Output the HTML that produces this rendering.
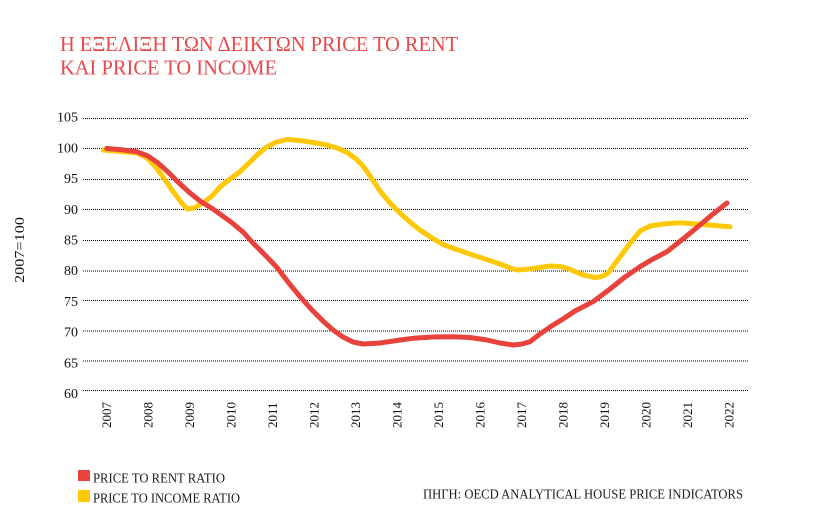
<!DOCTYPE html>
<html>
<head>
<meta charset="utf-8">
<style>
html,body{margin:0;padding:0;background:#fff;}
svg{display:block;}
</style>
</head>
<body>
<svg width="816" height="525" viewBox="0 0 816 525" xmlns="http://www.w3.org/2000/svg">
<rect width="816" height="525" fill="#fff"/>

<!-- Title -->
<g font-family="Liberation Serif, serif" font-size="21.5" fill="#e8484a">
<text x="60" y="51" textLength="398" lengthAdjust="spacingAndGlyphs">Η ΕΞΕΛΙΞΗ ΤΩΝ ΔΕΙΚΤΩΝ PRICE TO RENT</text>
<text x="60" y="74.5" textLength="217" lengthAdjust="spacingAndGlyphs">ΚΑΙ PRICE TO INCOME</text>
</g>

<!-- Gridlines -->
<g stroke="#000" stroke-width="1" stroke-dasharray="1 1">
<line x1="83" x2="749" y1="118.5" y2="118.5"/>
<line x1="83" x2="749" y1="148.5" y2="148.5"/>
<line x1="83" x2="749" y1="179.5" y2="179.5"/>
<line x1="83" x2="749" y1="209.5" y2="209.5"/>
<line x1="83" x2="749" y1="240.5" y2="240.5"/>
<line x1="83" x2="749" y1="271" y2="271"/>
<line x1="83" x2="749" y1="300.5" y2="300.5"/>
<line x1="83" x2="749" y1="331" y2="331"/>
<line x1="83" x2="749" y1="361" y2="361"/>
<line x1="83" x2="749" y1="390.5" y2="390.5"/>
</g>

<!-- Y tick labels -->
<g font-family="Liberation Serif, serif" font-size="14" fill="#111" text-anchor="end">
<text x="78" y="121.7">105</text>
<text x="78" y="152.4">100</text>
<text x="78" y="183.1">95</text>
<text x="78" y="213.8">90</text>
<text x="78" y="244.5">85</text>
<text x="78" y="275.2">80</text>
<text x="78" y="305.9">75</text>
<text x="78" y="336.6">70</text>
<text x="78" y="367.3">65</text>
<text x="78" y="398">60</text>
</g>

<!-- Y axis title -->
<text transform="translate(24,250) rotate(-90)" font-family="Liberation Serif, serif" font-size="14" fill="#111" text-anchor="middle" textLength="66" lengthAdjust="spacingAndGlyphs">2007=100</text>

<!-- X labels -->
<g font-family="Liberation Serif, serif" font-size="13" fill="#111">
<text transform="translate(111.2,428) rotate(-90)">2007</text>
<text transform="translate(152.7,428) rotate(-90)">2008</text>
<text transform="translate(194.2,428) rotate(-90)">2009</text>
<text transform="translate(235.7,428) rotate(-90)">2010</text>
<text transform="translate(277.2,428) rotate(-90)">2011</text>
<text transform="translate(318.7,428) rotate(-90)">2012</text>
<text transform="translate(360.2,428) rotate(-90)">2013</text>
<text transform="translate(401.7,428) rotate(-90)">2014</text>
<text transform="translate(443.2,428) rotate(-90)">2015</text>
<text transform="translate(484.7,428) rotate(-90)">2016</text>
<text transform="translate(526.2,428) rotate(-90)">2017</text>
<text transform="translate(567.7,428) rotate(-90)">2018</text>
<text transform="translate(609.2,428) rotate(-90)">2019</text>
<text transform="translate(650.7,428) rotate(-90)">2020</text>
<text transform="translate(692.2,428) rotate(-90)">2021</text>
<text transform="translate(733.7,428) rotate(-90)">2022</text>
</g>

<!-- Yellow series: price to income -->
<polyline fill="none" stroke="#ffc807" stroke-width="5" stroke-linejoin="round" stroke-linecap="round"
points="103.3,150 120,151.5 136.7,153 147,158 155,166 163,177 173,191.5 181,202 187,209 194,208 203,203 212,196 220,187 230,179 240,171.7 250,162 258,154 266,147.5 275,142.5 287,139.5 300,140.5 313,142.5 325,144.5 337,148 348,153 356,159 363,166 370,176 380,191 390,203 400,213 410,222 420,230 432,238 443,244.5 455,249 470,254 483,258.3 500,264 510,268 517,270 530,269 550,266 560,266.5 568,268.5 583,275 595,277.5 602,276.5 608,273 617,261 628,246 640,231 650,226 663,224 680,222.7 700,224.3 715,225.5 730,226.7"/>

<!-- Red series: price to rent -->
<polyline fill="none" stroke="#e8423d" stroke-width="5" stroke-linejoin="round" stroke-linecap="round"
points="106.7,148.5 122,149.8 136.7,151.7 148,156 158,163 168,172 178,182 190,193 200,201 213,209 231,222 243,232 253,243 265,255 277,267.5 288,282 300,296.7 312,310 323,321 333,330 343,337 353,342 363,344 380,343 400,340 413,338.3 433,337 453,336.7 470,337.5 487,340 500,343 513,345 522,344 530,341.7 540,334 550,327 563,319 575,311 593,301.7 610,289 625,277 640,266.7 653,259 667,251.7 683,239 700,225 713,214 727,203"/>

<!-- Legend -->
<rect x="78" y="470" width="12" height="11" fill="#e8423d"/>
<rect x="78" y="490" width="12" height="12" fill="#ffc807"/>
<g font-family="Liberation Serif, serif" font-size="14" fill="#1a1a1a">
<text x="93" y="482.5" textLength="132" lengthAdjust="spacingAndGlyphs">PRICE TO RENT RATIO</text>
<text x="93" y="502.5" textLength="147" lengthAdjust="spacingAndGlyphs">PRICE TO INCOME RATIO</text>
<text x="423" y="498.5" textLength="320" lengthAdjust="spacingAndGlyphs">ΠΗΓΗ: OECD ANALYTICAL HOUSE PRICE INDICATORS</text>
</g>
</svg>
</body>
</html>
